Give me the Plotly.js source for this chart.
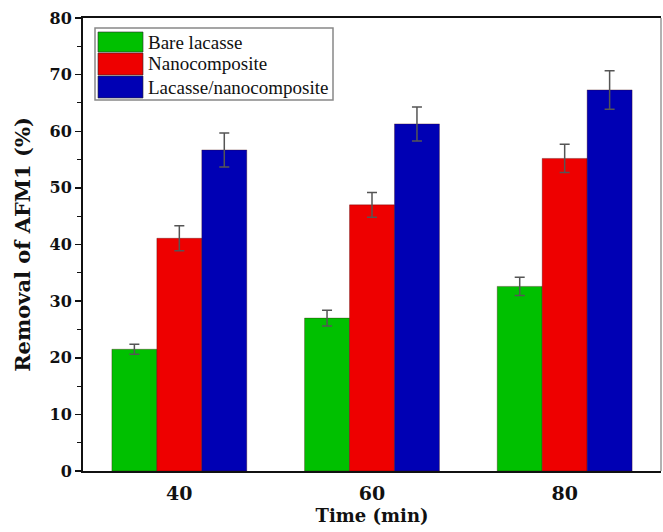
<!DOCTYPE html>
<html>
<head>
<meta charset="utf-8">
<script src="https://cdn.plot.ly/plotly-3.0.1.min.js"></script>
<style>html,body{margin:0;padding:0;background:#fff;}#chart{width:663px;height:532px;}</style>
</head>
<body>
<div id="chart"></div>
<script>
const categories = ['40', '60', '80'];
const seriesNames = ['Bare lacasse', 'Nanocomposite', 'Lacasse/nanocomposite'];
const bareLacasse = [21.5, 27.0, 32.6];
const bareLacasseErr = [0.9, 1.4, 1.6];
const nanocomposite = [41.1, 47.0, 55.2];
const nanocompositeErr = [2.2, 2.2, 2.5];
const lacasseNano = [56.7, 61.3, 67.3];
const lacasseNanoErr = [3.0, 3.0, 3.4];
const colors = ['#00c000', '#ee0000', '#0000b4'];
const yTicks = [0, 10, 20, 30, 40, 50, 60, 70, 80];

const vals = [bareLacasse, nanocomposite, lacasseNano];
const errs = [bareLacasseErr, nanocompositeErr, lacasseNanoErr];

const traces = vals.map((v, i) => ({
  type: 'bar',
  name: seriesNames[i],
  x: categories,
  y: v,
  marker: {color: colors[i], line: {color: 'rgba(60,0,0,0.55)', width: 0.6}},
  error_y: {type: 'data', array: errs[i], visible: true, color: '#555555', thickness: 1.5, width: 5},
  showlegend: false
}));

// custom legend with large swatches (plot area: x 83..661, y 18..471)
const L = 83, R = 661, T = 18, B = 471;
const px = v => (v - L) / (R - L);
const py = v => (B - v) / (B - T);
const shapes = [
  {type: 'rect', xref: 'paper', yref: 'paper', x0: px(95), x1: px(333), y0: py(100), y1: py(28),
   line: {color: '#888888', width: 1.5}, fillcolor: 'rgba(0,0,0,0)'},
  {type: 'line', xref: 'paper', yref: 'paper', x0: 1, x1: 1, y0: 0, y1: 1,
   line: {color: '#999999', width: 1.5}}
];
const rows = [[32, 52], [53, 75], [76, 98]];
const annotations = [];
rows.forEach((r, i) => {
  shapes.push({type: 'rect', xref: 'paper', yref: 'paper', x0: px(98), x1: px(143), y0: py(r[1]), y1: py(r[0]),
    fillcolor: colors[i], line: {color: 'rgba(40,40,40,0.6)', width: 1}});
  annotations.push({xref: 'paper', yref: 'paper', x: px(146), y: py((r[0] + r[1]) / 2), xanchor: 'left', yanchor: 'middle',
    text: seriesNames[i], showarrow: false, font: {family: 'Liberation Serif, Times New Roman, serif', size: 19, color: '#111'}});
});

const boldFont = 'DejaVu Serif, serif';

const layout = {
  width: 663, height: 532,
  margin: {l: 83, r: 2, t: 18, b: 61},
  paper_bgcolor: '#ffffff', plot_bgcolor: '#ffffff',
  barmode: 'group', bargap: 0.3, bargroupgap: 0,
  font: {family: boldFont, color: '#111'},
  xaxis: {
    type: 'category', range: [-0.5, 2.5],
    showline: true, linecolor: '#111', linewidth: 2, mirror: true,
    ticks: '', showgrid: false, zeroline: false,
    ticklabelstandoff: 4,
    tickfont: {size: 19, family: boldFont, weight: 'bold'},
    title: {text: '<b>Time (min)</b>', font: {size: 18, family: boldFont}, standoff: 7}
  },
  yaxis: {
    range: [0, 80], tickvals: yTicks,
    showline: true, linecolor: '#111', linewidth: 2,
    ticks: 'outside', ticklen: 6, tickwidth: 1.5, tickcolor: '#111',
    minor: {dtick: 5, ticks: 'outside', ticklen: 4, tickwidth: 1, tickcolor: '#111', showgrid: false},
    showgrid: false, zeroline: false,
    tickfont: {size: 16, family: boldFont, weight: 'bold'},
    title: {text: '<b>Removal of AFM1 (%)</b>', font: {size: 21, family: boldFont}, standoff: 13}
  },
  shapes: shapes,
  annotations: annotations
};

Plotly.newPlot('chart', traces, layout, {displayModeBar: false, staticPlot: true});
</script>
</body>
</html>
